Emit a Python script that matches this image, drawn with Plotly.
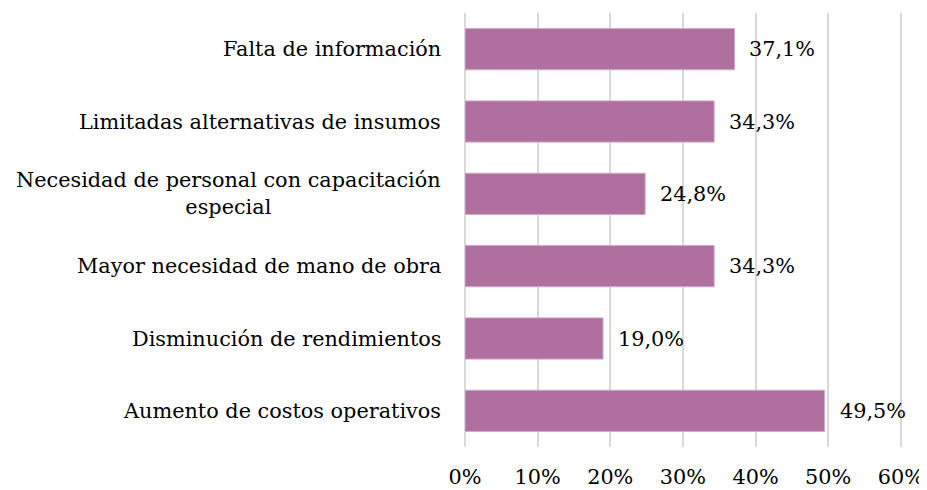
import plotly.graph_objects as go

categories = [
    "Aumento de costos operativos",
    "Disminución de rendimientos",
    "Mayor necesidad de mano de obra",
    "Necesidad de personal con capacitación<br>especial",
    "Limitadas alternativas de insumos",
    "Falta de información",
]
values = [49.5, 19.0, 34.3, 24.8, 34.3, 37.1]
tick_vals = [0, 10, 20, 30, 40, 50, 60]
tick_text = ["0%", "10%", "20%", "30%", "40%", "50%", "60%"]

FONT = "DejaVu Serif"
BAR = "#B0709F"
GRID = "#D9D9D9"
FS = 20.8

labels = [f"{v:.1f}%".replace(".", ",") for v in values]

fig = go.Figure(go.Bar(
    y=categories, x=values, orientation="h",
    marker=dict(color=BAR, line=dict(color="#D2A8C6", width=1)),
    hoverinfo="skip",
))

annotations = []
for c, v, t in zip(categories, values, labels):
    annotations.append(dict(x=v, y=c, xref="x", yref="y", text=t, showarrow=False,
                            xanchor="left", xshift=13,
                            font=dict(family=FONT, size=FS, color="#000000")))
    annotations.append(dict(x=0, y=c, xref="paper", yref="y", text=c, showarrow=False,
                            xanchor="right", xshift=-22, align="center",
                            font=dict(family=FONT, size=FS, color="#000000")))

# page body has an 8px margin, so the figure is sized/offset to compensate
fig.update_layout(
    width=919, height=482,
    margin=dict(l=457, r=24, t=5, b=43),
    paper_bgcolor="white", plot_bgcolor="white",
    bargap=0.43,
    showlegend=False,
    annotations=annotations,
    xaxis=dict(range=[0, 60.3], tickvals=tick_vals, ticktext=tick_text,
               showgrid=True, gridcolor=GRID, gridwidth=1.5,
               zeroline=True, zerolinecolor=GRID, zerolinewidth=1.5,
               showline=False, ticks="",
               ticklabelstandoff=15, automargin=False,
               tickfont=dict(family=FONT, size=FS, color="#000000")),
    yaxis=dict(showticklabels=False, showgrid=False, zeroline=False, showline=False,
               automargin=False,
               categoryorder="array", categoryarray=categories),
)

fig.write_html("out.html")
